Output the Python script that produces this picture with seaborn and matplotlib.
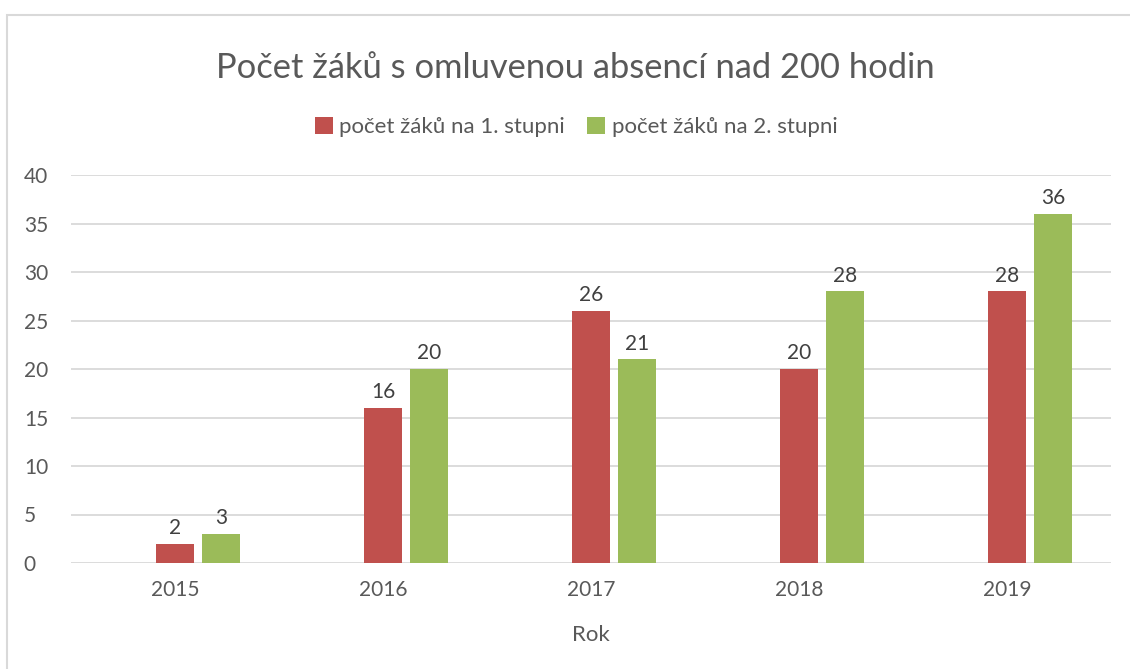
import pandas as pd
import matplotlib.pyplot as plt
import seaborn as sns
from matplotlib.patches import Patch, Rectangle

# Chart data
years = ["2015", "2016", "2017", "2018", "2019"]
stupen_1 = [2, 16, 26, 20, 28]
stupen_2 = [3, 20, 21, 28, 36]
series_names = ["počet žáků na 1. stupni", "počet žáků na 2. stupni"]
colors = ["#C0504D", "#9BBB59"]

df = pd.DataFrame({
    "Rok": years * 2,
    "pocet": stupen_1 + stupen_2,
    "serie": [series_names[0]] * len(years) + [series_names[1]] * len(years),
})

sns.set_theme(style="white")
plt.rcParams["font.family"] = ["Lato", "DejaVu Sans"]
text_col = "#595959"

fig = plt.figure(figsize=(11.3, 6.69), dpi=100)
ax = fig.add_axes([71 / 1130, 1 - 563 / 669, 1040 / 1130, 388 / 669])

# the original chart keeps an empty slot in front of the two series
hue_order = ["_empty"] + series_names
palette = {"_empty": "white", series_names[0]: colors[0], series_names[1]: colors[1]}
sns.barplot(data=df, x="Rok", y="pocet", hue="serie", hue_order=hue_order,
            palette=palette, width=0.663, gap=0.19, ax=ax, legend=False,
            saturation=1, errorbar=None, linewidth=0)

for cont in ax.containers:
    ax.bar_label(cont, padding=4, fontsize=15, color="#404040")

ax.set_ylim(0, 40)
ax.set_yticks(range(0, 41, 5))
ax.yaxis.grid(True, color="#D9D9D9", linewidth=1.3)
ax.set_axisbelow(True)
sns.despine(ax=ax, left=True, bottom=True, top=True, right=True)
ax.tick_params(axis="both", length=0, labelsize=15, labelcolor=text_col)
ax.tick_params(axis="y", pad=34)
ax.tick_params(axis="x", pad=12)
for lbl in ax.get_yticklabels():
    lbl.set_horizontalalignment("left")
ax.set_xlabel("Rok", fontsize=16, color=text_col, labelpad=18)
ax.set_ylabel("")

fig.text(0.509, 1 - 68 / 669, "Počet žáků s omluvenou absencí nad 200 hodin",
         ha="center", va="center", fontsize=24.8, color=text_col)

handles = [Patch(facecolor=c, edgecolor="none") for c in colors]
fig.legend(handles, series_names, loc="center", bbox_to_anchor=(0.51, 1 - 127 / 669),
           ncol=2, frameon=False, fontsize=16, handlelength=0.8, handleheight=0.8,
           handletextpad=0.3, columnspacing=1.0, labelcolor=text_col)

# light frame around the chart area
fig.patches.append(Rectangle((7 / 1130, -0.1), 1.2, 1.1 - 15 / 669,
                             transform=fig.transFigure, fill=False,
                             edgecolor="#D9D9D9", linewidth=1.5))

fig.savefig("out.png", dpi=100)
